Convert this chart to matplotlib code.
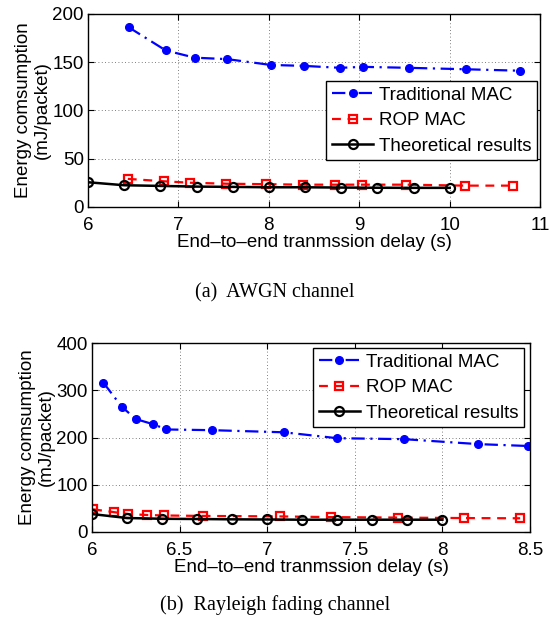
import matplotlib
matplotlib.use("Agg")
import matplotlib.pyplot as plt

plt.rcParams['font.family'] = ['Liberation Sans', 'DejaVu Sans']

# (a) AWGN channel
a_trad_x = [6.45, 6.86, 7.18, 7.54, 8.02, 8.39, 8.79, 9.04, 9.55, 10.18, 10.78]
a_trad_y = [186, 162, 154.5, 153, 147, 146, 144, 145, 144, 142.5, 141]
a_rop_x = [6.44, 6.84, 7.13, 7.53, 7.97, 8.38, 8.73, 9.03, 9.52, 10.17, 10.7]
a_rop_y = [29, 26.5, 25, 24, 23.5, 23, 23, 23, 23, 22, 22]
a_theo_x = [6.0, 6.4, 6.8, 7.2, 7.6, 8.0, 8.4, 8.8, 9.2, 9.6, 10.0]
a_theo_y = [25.5, 22.4, 21.7, 21, 20.7, 20.3, 20.3, 20, 19.8, 19.7, 19.7]
a_xticks = [6, 7, 8, 9, 10, 11]
a_yticks = [0, 50, 100, 150, 200]

# (b) Rayleigh fading channel
b_trad_x = [6.065, 6.17, 6.25, 6.35, 6.425, 6.685, 7.095, 7.40, 7.78, 8.205, 8.49]
b_trad_y = [316, 265, 239, 228, 217, 215.5, 211, 198.5, 196.5, 186, 182]
b_rop_x = [6.006, 6.126, 6.206, 6.314, 6.41, 6.634, 7.072, 7.362, 7.749, 8.126, 8.444]
b_rop_y = [48, 42, 38, 36, 35, 34, 33, 31.5, 30.5, 29.5, 29]
b_theo_x = [6.0, 6.2, 6.4, 6.6, 6.8, 7.0, 7.2, 7.4, 7.6, 7.8, 8.0]
b_theo_y = [38, 29.6, 28, 27.5, 26.8, 26.5, 26, 26, 26, 26, 26]
b_xticks = [6, 6.5, 7, 7.5, 8, 8.5]
b_xticklabels = ['6', '6.5', '7', '7.5', '8', '8.5']
b_yticks = [0, 100, 200, 300, 400]

labels = ['Traditional MAC', 'ROP MAC', 'Theoretical results']

FS = 13.5

fig = plt.figure(figsize=(5.5, 6.25), dpi=100)
ax1 = fig.add_axes([0.16, 0.669, 0.822, 0.309])
ax2 = fig.add_axes([0.1673, 0.1488, 0.7963, 0.3024])

def style(ax, xlim, ylim, xticks, yticks, xticklabels=None):
    ax.set_xlim(*xlim)
    ax.set_ylim(*ylim)
    ax.set_xticks(xticks)
    if xticklabels is not None:
        ax.set_xticklabels(xticklabels)
    ax.set_yticks(yticks)
    ax.grid(True, linestyle=(0, (1, 3)), color='#555555', linewidth=0.6)
    ax.tick_params(direction='in', top=True, right=True, labelsize=FS, length=4)
    ax.tick_params(axis='x', pad=7.5)
    ax.tick_params(axis='y', pad=3)
    for s in ax.spines.values():
        s.set_linewidth(1.0)
    ax.set_xlabel('End\u2013to\u2013end tranmssion delay (s)', fontsize=FS, labelpad=0)
    ax.set_ylabel('Energy comsumption\n(mJ/packet)', fontsize=FS, linespacing=1.15, labelpad=1)

def plot_series(ax, tx, ty, rx, ry, hx, hy):
    ax.plot(tx, ty, color='blue', linestyle=(0, (6, 2.5, 1, 2.5)), linewidth=1.6,
            marker='o', markersize=5.5, markerfacecolor='blue', markeredgecolor='blue', label=labels[0])
    ax.plot(rx, ry, color='red', linestyle=(0, (4, 3)), linewidth=1.6,
            marker='s', markersize=5.5, markerfacecolor='none', markeredgecolor='red',
            markeredgewidth=1.6, label=labels[1])
    ax.plot(hx, hy, color='black', linestyle='-', linewidth=1.8,
            marker='o', markersize=6.5, markerfacecolor='none', markeredgecolor='black',
            markeredgewidth=1.6, label=labels[2])

legend_kw = dict(fontsize=FS, frameon=True, fancybox=False, edgecolor='black', framealpha=1,
                 borderpad=0.3, handlelength=2.2, handletextpad=0.3, labelspacing=0.45,
                 borderaxespad=0)

plot_series(ax1, a_trad_x, a_trad_y, a_rop_x, a_rop_y, a_theo_x, a_theo_y)
style(ax1, (6, 11), (0, 200), a_xticks, a_yticks)
ax1.legend(loc='upper right', bbox_to_anchor=(0.993, 0.653), **legend_kw)
ax1.get_legend().get_frame().set_linewidth(1.0)

plot_series(ax2, b_trad_x, b_trad_y, b_rop_x, b_rop_y, b_theo_x, b_theo_y)
style(ax2, (6, 8.5), (0, 400), b_xticks, b_yticks, b_xticklabels)
ax2.legend(loc='upper right', bbox_to_anchor=(0.986, 0.974), **legend_kw)
ax2.get_legend().get_frame().set_linewidth(1.0)

fig.text(0.5, 1 - 293 / 625, '(a)  AWGN channel', ha='center', va='center',
         fontsize=14.5, family=['Liberation Serif', 'DejaVu Serif'])
fig.text(0.5, 1 - 605 / 625, '(b)  Rayleigh fading channel', ha='center', va='center',
         fontsize=14.5, family=['Liberation Serif', 'DejaVu Serif'])

fig.savefig('out.png', dpi=100)
